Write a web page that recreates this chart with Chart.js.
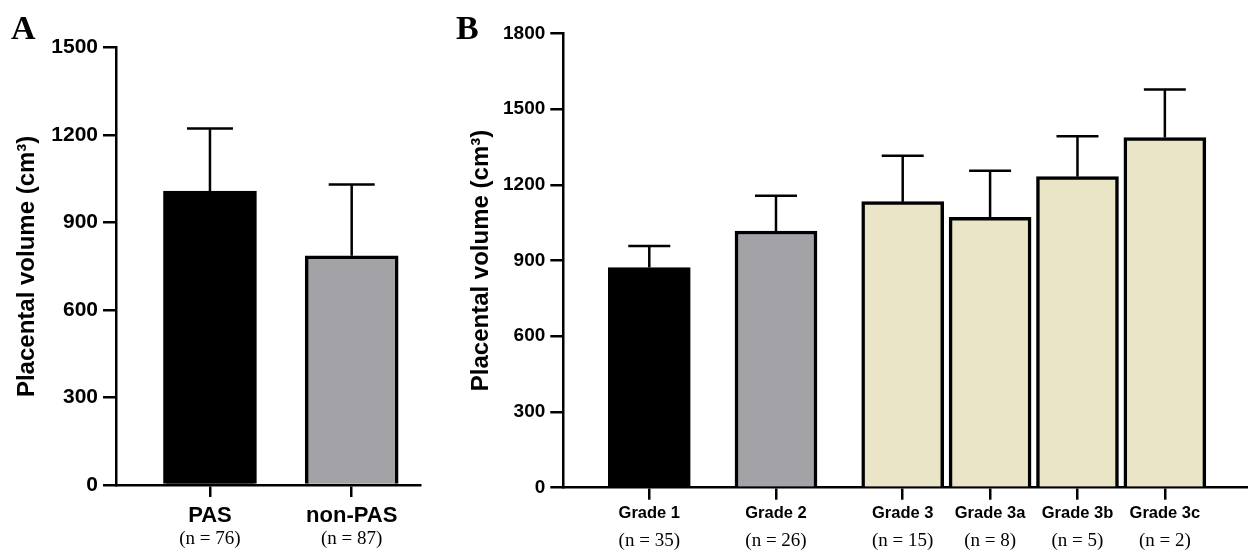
<!DOCTYPE html>
<html>
<head>
<meta charset="utf-8">
<script src="https://cdn.jsdelivr.net/npm/chart.js@4.4.1/dist/chart.umd.min.js"></script>
<style>
body{margin:0;background:#fff;width:1248px;height:551px;position:relative;overflow:hidden}
#wrapA{position:absolute;left:0;top:0;width:440px;height:551px}
#wrapB{position:absolute;left:440px;top:0;width:808px;height:551px}
.lab{position:absolute;font-family:"Liberation Serif","Times New Roman",serif;font-weight:bold;font-size:34px;line-height:normal;color:#000}
</style>
</head>
<body>
<div id="wrapA"><canvas id="chartA" width="440" height="551"></canvas></div>
<div id="wrapB"><canvas id="chartB" width="808" height="551"></canvas></div>
<div class="lab" style="left:11px;top:9px">A</div>
<div class="lab" style="left:456px;top:9px">B</div>
<script>
// panel A data
const catsA=["PAS","non-PAS"]
const nA=["(n = 76)","(n = 87)"]
const meanA=[1008,786]
const sdA=[215,245]

// panel B data
const catsB=["Grade 1","Grade 2","Grade 3","Grade 3a","Grade 3b","Grade 3c"]
const nB=["(n = 35)","(n = 26)","(n = 15)","(n = 8)","(n = 5)","(n = 2)"]
const meanB=[872,1017,1133,1071,1232,1387]
const sdB=[85,139,182,185,160,190]

// layout: slot of each bar along x
const slotA=[0,1]
const slotB=[0,1.45,2.9,3.9,4.9,5.9]

const fillA=["#000000","#a3a2a7"]
const fillB=["#000000","#a3a2a7","#ebe5c8","#ebe5c8","#ebe5c8","#ebe5c8"]

const sans="'Liberation Sans', Arial, sans-serif"
const serif="'Liberation Serif', 'Times New Roman', serif"

function extras(o){
return {
id:"extras",
afterDatasetsDraw(chart){
const x=chart.scales.x,y=chart.scales.y,ctx=chart.ctx
const bottom=chart.chartArea.bottom
ctx.save()
ctx.strokeStyle="#000"
ctx.lineWidth=2.5
o.mean.forEach((m,i)=>{
let px=x.getPixelForValue(o.slot[i])
let y0=y.getPixelForValue(m)
let y1=y.getPixelForValue(m+o.sd[i])
ctx.beginPath()
ctx.moveTo(px,y0)
ctx.lineTo(px,y1)
ctx.moveTo(px-o.cap,y1)
ctx.lineTo(px+o.cap,y1)
ctx.stroke()
})
ctx.fillStyle="#000"
ctx.textAlign="center"
ctx.textBaseline="alphabetic"
o.cats.forEach((c,i)=>{
let px=x.getPixelForValue(o.slot[i])
ctx.font=o.catFont
ctx.fillText(c,px,bottom+o.catDy)
ctx.font=o.nFont
ctx.fillText(o.n[i],px,bottom+o.nDy)
})
ctx.restore()
}
}
}

function makeChart(id,c){
return new Chart(document.getElementById(id),{
type:"bar",
data:{datasets:[{
data:c.slot.map((s,i)=>({x:s,y:c.mean[i]})),
backgroundColor:c.fill,
borderColor:"#000",
borderWidth:3.5,
borderSkipped:"bottom",
barThickness:c.barW
}]},
options:{
responsive:false,
animation:false,
devicePixelRatio:1,
layout:{padding:{left:0,top:c.top,right:c.right,bottom:0}},
plugins:{legend:{display:false},tooltip:{enabled:false}},
scales:{
x:{
type:"linear",
min:c.xmin,max:c.xmax,
offset:false,
grid:{display:true,offset:false,drawOnChartArea:false,drawTicks:true,tickLength:12,color:"#000",lineWidth:2.5},
border:{display:true,color:"#000",width:2.5},
ticks:{display:false},
afterBuildTicks:s=>{s.ticks=c.slot.map(v=>({value:v}))},
afterFit:s=>{s.height=c.xH}
},
y:{
min:0,max:c.ymax,
ticks:{stepSize:300,color:"#000",padding:5,font:{family:sans,weight:"bold",size:c.tickSize},callback:v=>String(v)},
grid:{drawOnChartArea:false,tickLength:13,color:"#000",lineWidth:2.5},
border:{color:"#000",width:2.5},
title:{display:true,text:"Placental volume (cm³)",color:"#000",padding:{top:c.titlePad,bottom:0},font:{family:sans,weight:"bold",size:24}},
afterFit:s=>{s.width=c.yW}
}
}
},
plugins:[extras({mean:c.mean,sd:c.sd,slot:c.slot,cats:c.cats,n:c.n,cap:c.cap,
catFont:c.catFont,nFont:c.nFont,catDy:c.catDy,nDy:c.nDy})]
})
}

makeChart("chartA",{
cats:catsA,n:nA,mean:meanA,sd:sdA,slot:slotA,fill:fillA,
barW:93,cap:23,top:47.7,right:20,xmin:-0.663,xmax:1.482,xH:66,yW:116,ymax:1500,
tickSize:21,titlePad:12.6,
catFont:"bold 22px "+sans,nFont:"19px "+serif,catDy:37,nDy:59.4
})

makeChart("chartB",{
cats:catsB,n:nB,mean:meanB,sd:sdB,slot:slotB,fill:fillB,
barW:82,cap:21,top:33.3,right:1,xmin:-0.984,xmax:6.84,xH:63.3,yW:123.3,ymax:1800,
tickSize:19,titlePad:26.6,
catFont:"bold 16.5px "+sans,nFont:"19px "+serif,catDy:30.6,nDy:58
})
</script>
</body>
</html>
